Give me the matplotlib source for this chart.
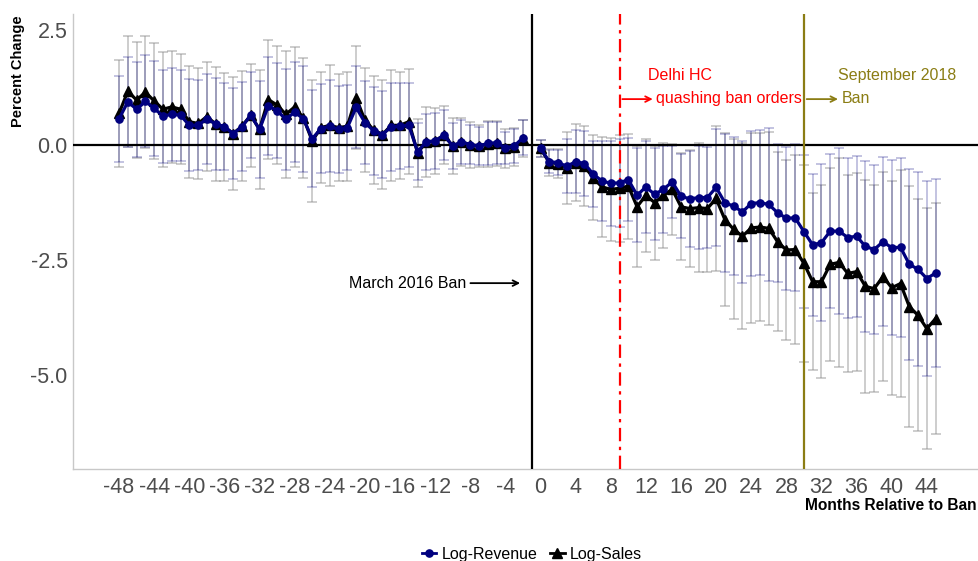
import matplotlib
matplotlib.use("Agg")
import matplotlib.pyplot as plt
from matplotlib.lines import Line2D

plt.rcParams["font.family"] = ["Liberation Sans", "DejaVu Sans"]
plt.rcParams["axes.unicode_minus"] = False

# Months relative to ban (month -1 is the reference period, left out)
months_pre = [-48, -47, -46, -45, -44, -43, -42, -41, -40, -39, -38, -37,
              -36, -35, -34, -33, -32, -31, -30, -29, -28, -27, -26, -25,
              -24, -23, -22, -21, -20, -19, -18, -17, -16, -15, -14, -13,
              -12, -11, -10, -9, -8, -7, -6, -5, -4, -3, -2]
months_post = [0, 1, 2, 3, 4, 5, 6, 7, 8, 9, 10, 11, 12, 13, 14, 15, 16,
               17, 18, 19, 20, 21, 22, 23, 24, 25, 26, 27, 28, 29, 30, 31,
               32, 33, 34, 35, 36, 37, 38, 39, 40, 41, 42, 43, 44, 45]

# Log-Revenue estimates and CI half widths
revenue_pre = [0.57, 0.94, 0.78, 0.95, 0.80, 0.63, 0.67, 0.65, 0.43, 0.43,
               0.57, 0.46, 0.40, 0.25, 0.40, 0.65, 0.34, 0.85, 0.75, 0.56,
               0.72, 0.57, 0.14, 0.36, 0.41, 0.34, 0.38, 0.82, 0.49, 0.31,
               0.23, 0.40, 0.41, 0.43, -0.14, 0.07, 0.09, 0.22, -0.02, 0.07,
               0.01, -0.02, 0.04, 0.05, -0.06, -0.02, 0.16]
revenue_post = [-0.07, -0.36, -0.38, -0.46, -0.36, -0.40, -0.63, -0.78,
                -0.83, -0.82, -0.75, -1.09, -0.91, -1.07, -0.96, -0.80,
                -1.11, -1.17, -1.14, -1.14, -0.92, -1.25, -1.33, -1.45,
                -1.27, -1.25, -1.29, -1.47, -1.59, -1.58, -1.88, -2.17,
                -2.12, -1.87, -1.87, -2.01, -1.98, -2.20, -2.27, -2.10,
                -2.23, -2.22, -2.59, -2.70, -2.90, -2.78]
revenue_ci_pre = [0.94, 0.98, 1.03, 1.00, 1.03, 1.01, 1.01, 0.99, 1.00, 0.98,
                  0.97, 0.99, 0.95, 0.99, 0.97, 0.94, 1.06, 1.06, 1.04, 1.10,
                  1.08, 1.15, 1.05, 0.97, 1.00, 0.95, 0.93, 0.89, 0.91, 0.95,
                  0.95, 0.96, 0.93, 0.91, 0.62, 0.60, 0.60, 0.55, 0.50, 0.48,
                  0.43, 0.42, 0.47, 0.45, 0.35, 0.36, 0.38]
revenue_ci_post = [0.18, 0.25, 0.27, 0.59, 0.68, 0.70, 0.72, 0.88, 0.92,
                   0.96, 0.91, 1.02, 0.99, 1.00, 0.95, 0.79, 0.91, 1.04,
                   1.12, 1.09, 1.28, 1.50, 1.50, 1.54, 1.57, 1.57, 1.66,
                   1.50, 1.55, 1.60, 1.66, 1.55, 1.70, 1.68, 1.80, 1.74,
                   1.75, 1.86, 1.83, 1.84, 1.90, 1.94, 2.08, 2.11, 2.11, 2.04]

# Log-Sales estimates and CI half widths
sales_pre = [0.69, 1.17, 0.98, 1.15, 0.96, 0.78, 0.83, 0.78, 0.51, 0.47,
             0.62, 0.46, 0.40, 0.25, 0.41, 0.65, 0.34, 0.99, 0.87, 0.67,
             0.83, 0.59, 0.09, 0.38, 0.43, 0.38, 0.41, 1.03, 0.54, 0.33,
             0.23, 0.43, 0.43, 0.51, -0.17, 0.07, 0.09, 0.22, -0.02, 0.07,
             0.01, -0.02, 0.03, 0.04, -0.07, -0.04, 0.14]
sales_post = [-0.07, -0.38, -0.40, -0.49, -0.38, -0.46, -0.71, -0.91, -0.96,
              -0.94, -0.89, -1.34, -1.09, -1.25, -1.09, -0.96, -1.34, -1.38,
              -1.36, -1.38, -1.16, -1.62, -1.83, -1.98, -1.80, -1.78, -1.81,
              -2.10, -2.28, -2.27, -2.57, -2.97, -2.97, -2.59, -2.55, -2.79,
              -2.75, -3.07, -3.12, -2.86, -3.10, -3.01, -3.51, -3.70, -3.99,
              -3.77]
sales_ci_pre = [1.16, 1.21, 1.26, 1.22, 1.26, 1.25, 1.22, 1.20, 1.22, 1.20,
                1.18, 1.23, 1.17, 1.22, 1.20, 1.12, 1.30, 1.30, 1.29, 1.38,
                1.30, 1.30, 1.33, 1.20, 1.31, 1.17, 1.18, 1.12, 1.13, 1.18,
                1.18, 1.20, 1.16, 1.14, 0.73, 0.76, 0.72, 0.64, 0.60, 0.53,
                0.50, 0.46, 0.50, 0.49, 0.43, 0.42, 0.40]
sales_ci_post = [0.19, 0.29, 0.31, 0.78, 0.83, 0.87, 0.92, 1.09, 1.12, 1.16,
                 1.14, 1.32, 1.23, 1.24, 1.14, 0.99, 1.16, 1.28, 1.40, 1.38,
                 1.58, 1.88, 1.96, 2.02, 2.07, 2.04, 2.10, 1.95, 1.95, 2.05,
                 2.14, 1.92, 2.10, 2.10, 2.27, 2.15, 2.15, 2.31, 2.25, 2.27,
                 2.33, 2.46, 2.62, 2.52, 2.62, 2.51]

x_ticks = [-48, -44, -40, -36, -32, -28, -24, -20, -16, -12, -8, -4,
           0, 4, 8, 12, 16, 20, 24, 28, 32, 36, 40, 44]
y_ticks = [2.5, 0.0, -2.5, -5.0]

NAVY = "#00007f"
OLIVE = "#8b7d14"

fig = plt.figure(figsize=(9.79, 5.61), dpi=100)
ax = fig.add_axes([72.5 / 979, 92 / 561, 906.5 / 979, 455 / 561])

# Confidence intervals
for months, vals, ci in [(months_pre, sales_pre, sales_ci_pre),
                         (months_post, sales_post, sales_ci_post)]:
    ax.errorbar(months, vals, yerr=ci, fmt="none", ecolor="#8c8c8c",
                alpha=0.55, elinewidth=1.1, capsize=3.3, capthick=1.1,
                zorder=2)
for months, vals, ci in [(months_pre, revenue_pre, revenue_ci_pre),
                         (months_post, revenue_post, revenue_ci_post)]:
    ax.errorbar(months, vals, yerr=ci, fmt="none", ecolor=NAVY,
                alpha=0.3, elinewidth=1.1, capsize=3.3, capthick=1.1,
                zorder=2)

# Reference lines
ax.axhline(0, color="black", lw=1.6, zorder=3)
ax.axvline(-1, color="black", lw=1.6, zorder=3)
ax.axvline(9, color="red", lw=1.6, ls=(0, (6, 2.5, 1.5, 2.5)), zorder=3)
ax.axvline(30, color=OLIVE, lw=1.6, zorder=3)

# Point estimates
for months, vals in [(months_pre, sales_pre), (months_post, sales_post)]:
    ax.plot(months, vals, color="black", lw=2.3, marker="^", ms=6.5,
            zorder=4)
for months, vals in [(months_pre, revenue_pre), (months_post, revenue_post)]:
    ax.plot(months, vals, color=NAVY, lw=2.3, marker="o", ms=5.2, zorder=5)

# Annotations
ax.text(-8.4, -3.0, "March 2016 Ban", ha="right", va="center", fontsize=11.5)
ax.annotate("", xy=(-2.0, -3.0), xytext=(-8.3, -3.0),
            arrowprops=dict(arrowstyle="->", color="black", lw=1.3))
ax.text(12.2, 1.52, "Delhi HC", color="red", ha="left", va="center",
        fontsize=11.5)
ax.text(13.1, 1.02, "quashing ban orders", color="red", ha="left",
        va="center", fontsize=11.5)
ax.annotate("", xy=(13.1, 1.0), xytext=(9, 1.0),
            arrowprops=dict(arrowstyle="->", color="red", lw=1.3))
ax.text(33.9, 1.52, "September 2018", color=OLIVE, ha="left", va="center",
        fontsize=11.5)
ax.text(34.3, 1.02, "Ban", color=OLIVE, ha="left", va="center",
        fontsize=11.5)
ax.annotate("", xy=(34.2, 1.0), xytext=(30, 1.0),
            arrowprops=dict(arrowstyle="->", color=OLIVE, lw=1.3))

# Axes styling
ax.set_xlim(-53.3, 49.94)
ax.set_ylim(-7.04, 2.85)
ax.set_xticks(x_ticks)
ax.set_yticks(y_ticks)
ax.set_yticklabels([f"{v:.1f}" for v in y_ticks])
ax.tick_params(length=0, labelsize=15.5, labelcolor="#4d4d4d")
ax.tick_params(axis="x", pad=6)
ax.tick_params(axis="y", pad=3.5)
for side in ["top", "right"]:
    ax.spines[side].set_visible(False)
for side in ["left", "bottom"]:
    ax.spines[side].set_color("#c8c8c8")
    ax.spines[side].set_linewidth(1)

fig.text(18 / 979, 1 - 71 / 561, "Percent Change", rotation=90,
         ha="center", va="center", fontsize=10.5, fontweight="bold")
fig.text(977 / 979, 1 - 506 / 561, "Months Relative to Ban", ha="right",
         va="center", fontsize=11.2, fontweight="bold")

# Legend
handles = [Line2D([], [], color=NAVY, marker="o", ms=5.2, lw=2),
           Line2D([], [], color="black", marker="^", ms=6.5, lw=2)]
fig.legend(handles, ["Log-Revenue", "Log-Sales"], loc="center",
           bbox_to_anchor=(532 / 979, 1 - 554 / 561), ncol=2, frameon=False,
           fontsize=11.5, handlelength=0.9, handletextpad=0.35,
           columnspacing=0.8)

fig.savefig("out.png", dpi=100)
